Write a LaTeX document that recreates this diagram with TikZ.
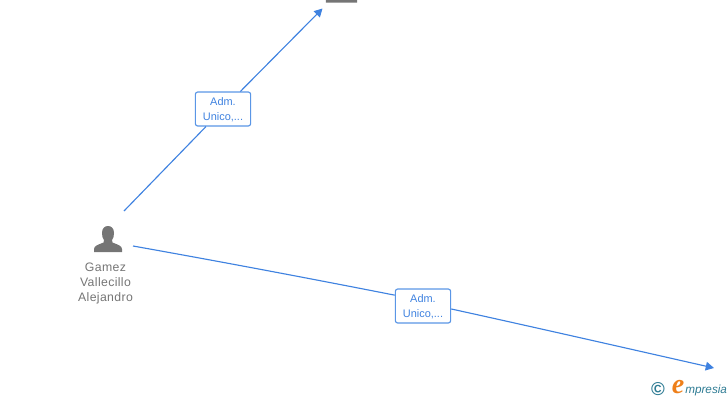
\documentclass[tikz,border=0pt]{standalone}
\usepackage{fontspec}
\setmainfont{Liberation Sans}
\newfontfamily\namefont[LetterSpace=3]{Liberation Sans}
\newfontfamily\logofont{Liberation Serif}
\usetikzlibrary{arrows.meta}
\definecolor{linkblue}{HTML}{3F82E0}
\definecolor{boxblue}{HTML}{5A96E6}
\definecolor{icongray}{HTML}{757575}
\definecolor{logoteal}{HTML}{2F7C94}
\definecolor{logoorange}{HTML}{EE7F1A}
\tikzset{
  link/.style={draw=linkblue,line width=0.85pt,-{Triangle[length=6.2pt,width=6.5pt]}},
  linkplain/.style={draw=linkblue,line width=0.85pt},
  rolebox/.style={draw=boxblue,fill=white,rounded corners=1.8pt,line width=0.85pt,minimum width=41.5pt,minimum height=25.5pt,inner sep=0pt,align=center},
  rolelabel/.style={inner sep=0pt,align=center,text=linkblue,font=\fontsize{8.2pt}{11.2pt}\selectfont},
  personname/.style={text=icongray,align=center,inner sep=0pt,font=\namefont\fontsize{9.2pt}{11.25pt}\selectfont},
  persongray/.style={fill=icongray,draw=none},
}
\newcommand{\personicon}[3]{%
  \fill[persongray,shift={(#1,#2)},scale=#3] (-14,13) -- (-14,10) .. controls (-14,6.5) and (-9,5.5) .. (-4.5,3.5)
    -- (-4,1) .. controls (-5.5,-1) and (-6,-3) .. (-6,-6) .. controls (-6,-10.5) and (-3.5,-13) .. (0,-13)
    .. controls (3.5,-13) and (6,-10.5) .. (6,-6) .. controls (6,-3) and (5.5,-1) .. (4,1)
    -- (4.5,3.5) .. controls (9,5.5) and (14,6.5) .. (14,10) -- (14,13) -- cycle;}
\begin{document}
\begin{tikzpicture}[x=0.75pt,y=-0.75pt]
\useasboundingbox (0,0) rectangle (728,400);
\begin{scope}
\clip (0,0) rectangle (728,400);
\personicon{108}{239}{1}
\personicon{341.5}{-12}{1.12}
\end{scope}
\node[personname] (gamez) at (105.5,283.5) {Gamez\\Vallecillo\\Alejandro};
\coordinate (startA) at (124,211);
\coordinate (startB) at (133,246);
\coordinate (endA) at (322.5,8.5);
\coordinate (endB) at (714,368);
\node[rolebox] (roleA) at (223,109) {};
\node[rolebox] (roleB) at (423,306) {};
\node[rolelabel] (labelA) at (223,110) {Adm.\\Unico,...};
\node[rolelabel] (labelB) at (423,307) {Adm.\\Unico,...};
\draw[linkplain] (startB) .. controls (220,261.5) and (310,278.5) .. (roleB.159);
\draw[link] (roleB.-6) .. controls (540,328.5) and (630,349) .. (endB);
\draw[linkplain] (startA) -- (roleA);
\draw[link] (roleA) -- (endA);
\node[text=logoteal,inner sep=0pt,font=\bfseries\fontsize{14pt}{14pt}\selectfont] (copyr) at (658,389) {©};
\node[text=logoorange,inner sep=0pt,font=\logofont\itshape\bfseries\fontsize{21pt}{21pt}\selectfont] (logoe) at (678,387) {e};
\node[text=logoteal,inner sep=0pt,anchor=base west,font=\itshape\fontsize{8.8pt}{10pt}\selectfont] (logotext) at (685,393) {mpresia};
\end{tikzpicture}
\end{document}
